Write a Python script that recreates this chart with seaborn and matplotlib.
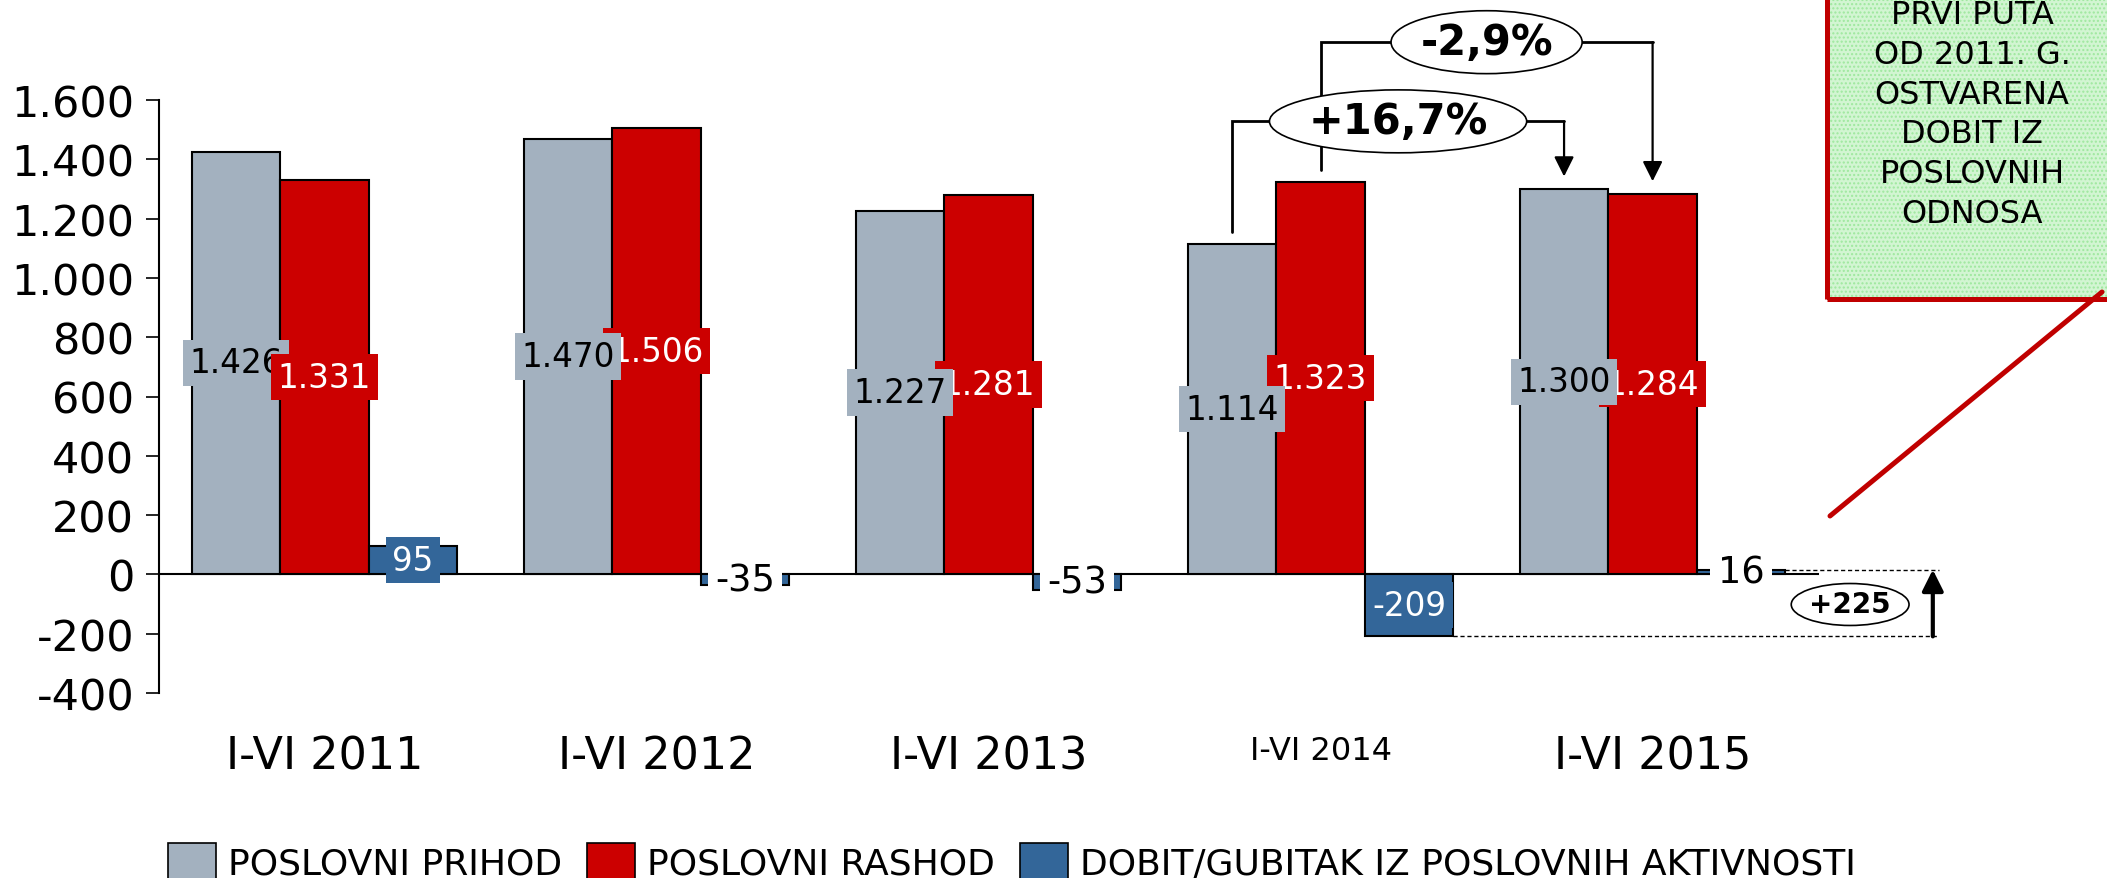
import numpy as np
import pandas as pd
import matplotlib
matplotlib.use('Agg')
import matplotlib.pyplot as plt
from matplotlib.patches import Patch, Rectangle
from matplotlib.lines import Line2D
from matplotlib.ticker import FuncFormatter
import seaborn as sns

# podaci (mil. kn)
periods = ['I-VI 2011', 'I-VI 2012', 'I-VI 2013', 'I-VI 2014', 'I-VI 2015']
prihod = [1426, 1470, 1227, 1114, 1300]
rashod = [1331, 1506, 1281, 1323, 1284]
dobit = [95, -35, -53, -209, 16]
series = ['POSLOVNI PRIHOD', 'POSLOVNI RASHOD', 'DOBIT/GUBITAK IZ POSLOVNIH AKTIVNOSTI']
colors = ['#A3B1BF', '#CC0000', '#336699']
y_ticks = [-400, -200, 0, 200, 400, 600, 800, 1000, 1200, 1400, 1600]
note_lines = ['PRVI PUTA', 'OD 2011. G.', 'OSTVARENA', 'DOBIT IZ', 'POSLOVNIH', 'ODNOSA']

W, H = 2107, 879


def fmt(v):
    return f'{v:,.0f}'.replace(',', '.')


def pct(a, b):
    return f'{(b - a) / a * 100:+.1f}%'.replace('.', ',')


df = pd.DataFrame({
    'period': periods * 3,
    'serija': np.repeat(series, len(periods)),
    'value': prihod + rashod + dobit,
})

sns.set_theme(style='white')
plt.rcParams['font.family'] = ['DejaVu Sans']
for k in ['text.color', 'axes.labelcolor', 'xtick.color', 'ytick.color']:
    plt.rcParams[k] = 'black'

fig = plt.figure(figsize=(W / 100, H / 100), dpi=100)
ax = fig.add_axes([158.6 / W, 185 / H, 1660 / W, 593 / H])

sns.barplot(data=df, x='period', y='value', hue='serija', order=periods,
            hue_order=series, palette=colors, saturation=1, edgecolor='black',
            linewidth=1.5, errorbar=None, legend=False, ax=ax)

ax.set_xlim(-0.5, 4.5)
ax.set_ylim(-400, 1600)
ax.axhline(0, color='black', lw=1.5, zorder=0.8)
ax.set_xlabel('')
ax.set_ylabel('')
ax.set_yticks(y_ticks)
ax.yaxis.set_major_formatter(FuncFormatter(lambda v, p: fmt(v)))
ax.tick_params(axis='y', left=True, length=9.5, width=1.2, labelsize=31, pad=8, colors='black')
ax.tick_params(axis='x', length=0, labelsize=32, pad=30, colors='black')
for lab in ax.get_xticklabels():
    if lab.get_text() == 'I-VI 2014':
        lab.set_fontsize(23)
for s in ['top', 'right', 'bottom']:
    ax.spines[s].set_visible(False)
ax.spines['left'].set_color('black')
ax.spines['left'].set_linewidth(1.5)

# oznake vrijednosti u sredini stupaca
label_style = [('black', colors[0]), ('white', colors[1]), ('white', colors[2])]
for i, cont in enumerate(ax.containers):
    for j, bar in enumerate(cont):
        v = bar.get_height()
        x = bar.get_x() + bar.get_width() / 2
        y = bar.get_y() + v / 2
        fc, bg = label_style[i]
        size = 23.5
        if i == 2 and abs(v) < 60:
            fc, bg, size = 'black', 'white', 26.5
        z = 6 if i == 0 else 5
        if i == 1 and j == 0:
            z = 7
        ax.text(x, y, fmt(v), ha='center', va='center', fontsize=size, color=fc,
                zorder=z, bbox=dict(boxstyle='square,pad=0.2', fc=bg, ec='none'))

# strelice s postotnim promjenama
def center(i, j):
    b = ax.containers[i][j]
    return b.get_x() + b.get_width() / 2

gap = 42
arrow_kw = dict(arrowstyle='-|>', color='black', lw=1.6, mutation_scale=30,
                shrinkA=0, shrinkB=0)
ell_kw = dict(boxstyle='ellipse,pad=0.03', fc='white', ec='black', lw=1.2)

for i, vals, lvl in [(0, prihod, 1528), (1, rashod, 1795)]:
    x0, x1 = center(i, 3), center(i, 4)
    ax.plot([x0, x0, x1], [vals[3] + gap, lvl, lvl], color='black', lw=2,
            clip_on=False, zorder=3, solid_joinstyle='miter')
    ax.annotate('', xy=(x1, vals[4] + gap), xytext=(x1, lvl),
                arrowprops=arrow_kw, annotation_clip=False, zorder=3)
    ax.text((x0 + x1) / 2, lvl, pct(vals[3], vals[4]), ha='center', va='center',
            fontsize=30, fontweight='bold', bbox=ell_kw, zorder=4, clip_on=False)

# razlika dobiti 2014 -> 2015
b4, b5 = ax.containers[2][3], ax.containers[2][4]
x_arr = 4.844
ax.plot([b5.get_x() + b5.get_width(), x_arr + 0.02], [dobit[4]] * 2, ls=(0, (3, 2)),
        color='black', lw=1, clip_on=False)
ax.plot([b4.get_x() + b4.get_width(), x_arr + 0.02], [dobit[3]] * 2, ls=(0, (3, 2)),
        color='black', lw=1, clip_on=False)
ax.annotate('', xy=(x_arr, dobit[4]), xytext=(x_arr, dobit[3]),
            arrowprops=dict(arrowstyle='-|>', color='black', lw=3, mutation_scale=32,
                            shrinkA=0, shrinkB=0), annotation_clip=False)
ax.text(4.595, (dobit[3] + dobit[4]) / 2 - 5, f'+{dobit[4] - dobit[3]}', ha='center',
        va='center', fontsize=20, fontweight='bold',
        bbox=dict(boxstyle='ellipse,pad=0.03', fc='white', ec='black', lw=1.2),
        clip_on=False)

# napomena gore desno
fig.patches.append(Rectangle((1827 / W, 1 - 300 / H), 0.2, 0.5, transform=fig.transFigure,
                             fc='#D2F5D2', ec='#9EE89E', lw=0, hatch='....', zorder=1))
fig.patches.append(Rectangle((1827 / W, 1 - 300 / H), 0.2, 0.5, transform=fig.transFigure,
                             fc='none', ec='#C00000', lw=3.6, zorder=2))
fig.text(1972 / W, 1 - 115 / H, '\n'.join(note_lines), ha='center', va='center',
         fontsize=23, linespacing=1.36, zorder=3)
fig.lines.append(Line2D([2102 / W, 1830 / W], [1 - 293 / H, 1 - 517 / H],
                        transform=fig.transFigure, color='#C00000', lw=3.6))

# legenda
handles = [Patch(fc=c, ec='black', lw=1.2) for c in colors]
fig.legend(handles, series, loc='center', bbox_to_anchor=(1012 / W, 16 / H), ncol=3,
           frameon=False, fontsize=26, handlelength=1.33, handleheight=1.2,
           handletextpad=0.33, columnspacing=0.7)

fig.savefig('out.png', dpi=100)
